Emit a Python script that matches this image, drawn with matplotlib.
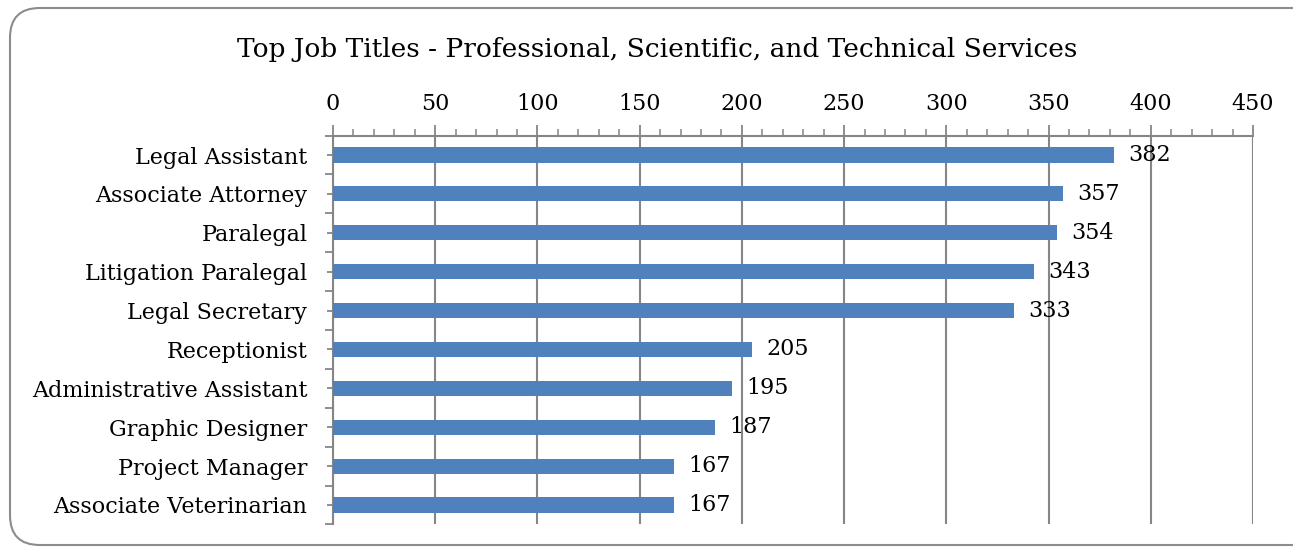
import matplotlib.pyplot as plt
import numpy as np
from matplotlib.patches import FancyBboxPatch
from matplotlib.ticker import MultipleLocator

titles = ["Legal Assistant", "Associate Attorney", "Paralegal", "Litigation Paralegal",
          "Legal Secretary", "Receptionist", "Administrative Assistant", "Graphic Designer",
          "Project Manager", "Associate Veterinarian"]
counts = [382, 357, 354, 343, 333, 205, 195, 187, 167, 167]
x_ticks = [0, 50, 100, 150, 200, 250, 300, 350, 400, 450]

plt.rcParams["font.family"] = ["DejaVu Serif"]

fig = plt.figure(figsize=(12.93, 5.48), dpi=100)
border = FancyBboxPatch((10 / 1293, 3 / 548), 1400 / 1293, 537 / 548,
                        boxstyle="round,pad=0,rounding_size=0.023",
                        transform=fig.transFigure, facecolor="none",
                        edgecolor="#8c8c8c", linewidth=1.5, mutation_aspect=1293 / 548,
                        zorder=-1)
fig.patches.append(border)

ax = fig.add_axes([333 / 1293, 0.043, 920 / 1293, 0.7096])
ax.set_facecolor("none")
y = np.arange(len(titles))
gray = "#868686"

ax.set_axisbelow(True)
ax.grid(axis="x", color=gray, linewidth=1.5)
ax.barh(y, counts, height=0.39, color="#4F81BD", zorder=3)
for yi, c in zip(y, counts):
    ax.text(c + 7, yi, str(c), va="center", ha="left", fontsize=16, zorder=4)

ax.set_xlim(0, 450)
ax.set_ylim(len(titles) - 0.5, -0.5)
ax.xaxis.tick_top()
ax.set_xticks(x_ticks)
ax.xaxis.set_minor_locator(MultipleLocator(10))
ax.tick_params(axis="x", which="major", length=8, width=1.3, color=gray,
               labelsize=16, pad=7)
ax.tick_params(axis="x", which="minor", length=5, width=1.1, color=gray)

ax.set_yticks(list(y + 0.5) + [-0.5])
ax.set_yticklabels([])
ax.set_yticks(y, minor=True)
ax.set_yticklabels(titles, minor=True)
ax.tick_params(axis="y", which="major", length=6, width=1.3, color=gray, direction="out")
ax.tick_params(axis="y", which="minor", length=9, width=1.3, color=gray,
               direction="inout", labelsize=16, pad=14)

for side in ["right", "bottom"]:
    ax.spines[side].set_visible(False)
for side in ["left", "top"]:
    ax.spines[side].set_color(gray)
    ax.spines[side].set_linewidth(1.5)

fig.text(0.508, 0.91, "Top Job Titles - Professional, Scientific, and Technical Services",
         ha="center", va="center", fontsize=19)

fig.savefig("out.png", dpi=100)
